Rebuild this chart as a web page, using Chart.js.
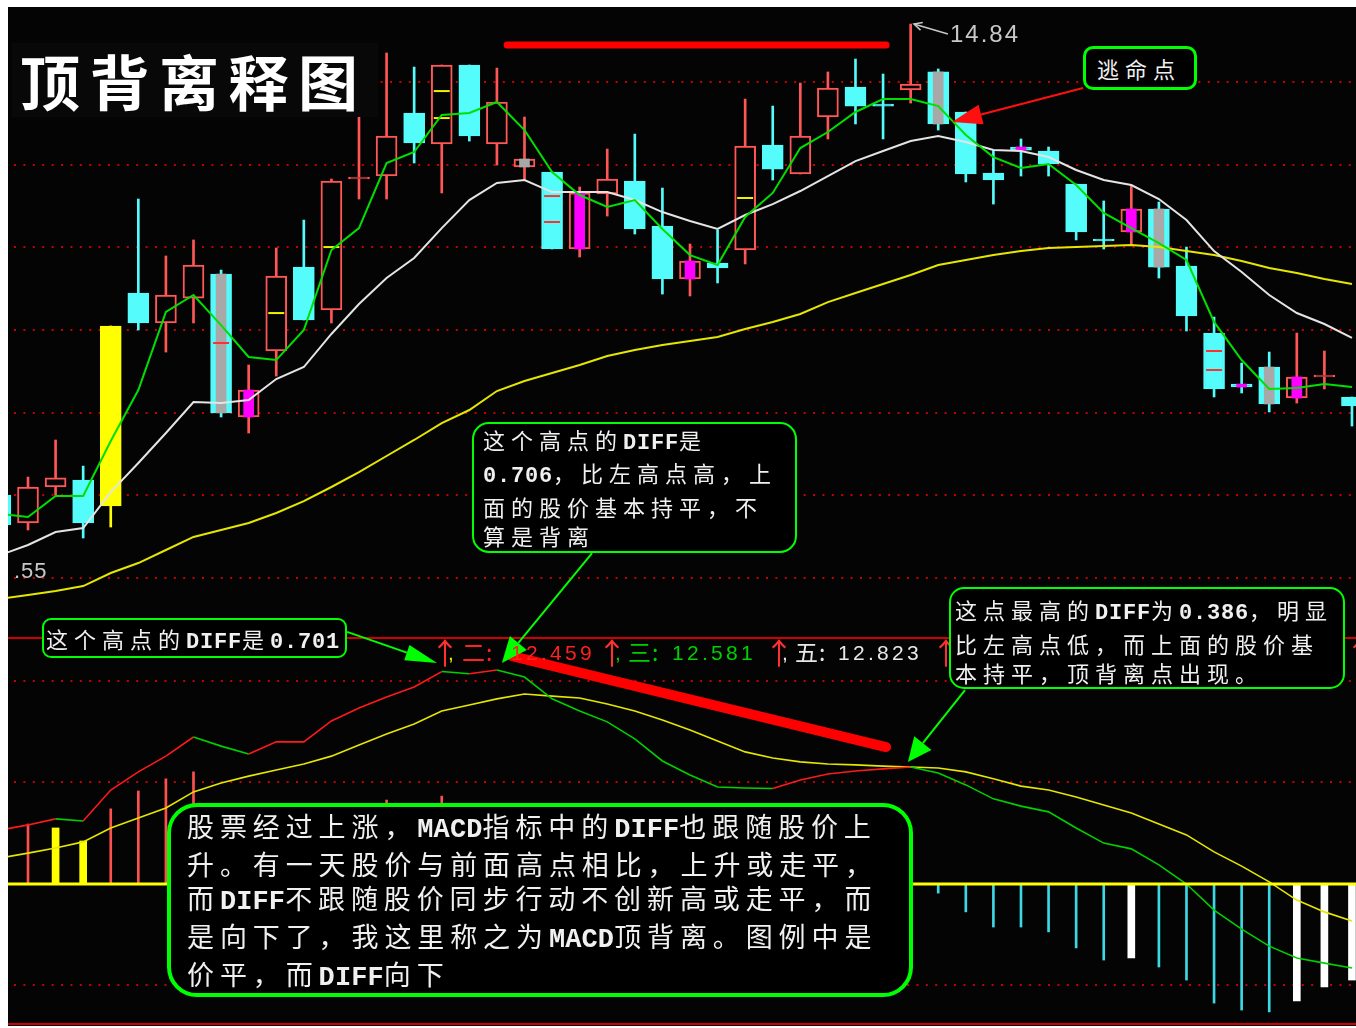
<!DOCTYPE html>
<html>
<head>
<meta charset="utf-8">
<script src="https://cdn.jsdelivr.net/npm/chart.js@4.4.1/dist/chart.umd.min.js"></script>
<style>
html,body{margin:0;padding:0;background:#fff;width:1356px;height:1028px;overflow:hidden;}
#wrap{position:absolute;left:8px;top:7px;width:1348px;height:1019px;background:#040404;}
#c{position:absolute;left:0;top:0;}
.box{position:absolute;box-sizing:border-box;background:#000;border:2px solid #00ff00;color:#f0f0f0;
 font-family:"Noto Sans CJK SC",sans-serif;font-size:22px;letter-spacing:6px;white-space:nowrap;}
.l{font-family:"Liberation Mono",monospace;letter-spacing:0.8px;font-weight:bold;}
.big .l{letter-spacing:0.1px;}
.tbg{position:absolute;left:12px;top:43px;width:366px;height:74px;background:#080808;}
.title{position:absolute;left:20px;top:50px;font-family:"Noto Sans CJK SC";font-weight:700;font-size:60px;line-height:60px;letter-spacing:9.5px;color:#fff;white-space:nowrap;}
.lbl{position:absolute;font-family:"Liberation Sans",sans-serif;color:#c8c8c8;white-space:nowrap;}
.ma span{position:absolute;top:641px;font-family:"Liberation Sans","Noto Sans CJK SC",sans-serif;font-size:21px;line-height:24px;letter-spacing:3.3px;white-space:nowrap;}
.ma span.arr{top:634px;font-family:"Noto Sans CJK SC";font-size:30px;line-height:34px;letter-spacing:0;color:#ff3030;}
.ma span.cj{font-family:"Noto Sans CJK SC";font-size:23px;letter-spacing:1px;top:639px;}
</style>
</head>
<body>
<div id="wrap"><canvas id="c" width="1348" height="1019"></canvas></div>

<div class="tbg"></div>
<div class="title">顶背离释图</div>
<div class="lbl" style="left:950px;top:20px;font-size:24px;line-height:28px;letter-spacing:2px;">14.84</div>
<div class="lbl" style="left:14px;top:558px;font-size:22px;line-height:26px;letter-spacing:1px;">.55</div>

<div class="ma">
 <span class="arr" style="left:430px;">↑</span>
 <span style="left:448px;color:#e6e600;">,</span>
 <span class="cj" style="left:462px;color:#ff2020;">二:</span>
 <span style="left:511px;color:#ff2020;">12.459</span>
 <span class="arr" style="left:597px;">↑</span>
 <span style="left:615px;color:#00d000;">,</span>
 <span class="cj" style="left:628px;color:#00d000;">三:</span>
 <span style="left:672px;color:#00d000;">12.581</span>
 <span class="arr" style="left:764px;">↑</span>
 <span style="left:782px;color:#e8e8e8;">,</span>
 <span class="cj" style="left:795px;color:#e8e8e8;">五:</span>
 <span style="left:838px;color:#e8e8e8;">12.823</span>
 <span class="arr" style="left:931px;">↑</span>
 <span class="arr" style="left:1345px;">↑</span>
</div>

<div class="box" style="left:1083px;top:46px;width:114px;height:44px;border-width:3px;border-radius:10px;padding-left:11px;line-height:38px;">逃命点</div>

<div class="box" style="left:42px;top:618px;width:305px;height:40px;border-radius:9px;padding-left:2px;line-height:36px;">这个高点的<span class="l">DIFF</span>是<span class="l">0.701</span></div>

<div class="box" style="left:472px;top:422px;width:325px;height:131px;border-radius:17px;padding-left:9px;padding-top:1px;line-height:29.4px;">这个高点的<span class="l">DIFF</span>是<br><span class="l">0.706</span>，比左高点高，上<br>面的股价基本持平，不<br>算是背离</div>

<div class="box" style="left:949px;top:587px;width:396px;height:102px;border-radius:15px;padding-left:4px;padding-top:6px;line-height:29.5px;">这点最高的<span class="l">DIFF</span>为<span class="l">0.386</span>，明显<br>比左高点低，而上面的股价基<br>本持平，顶背离点出现。</div>

<div class="box big" style="left:167px;top:803px;width:746px;height:194px;border-width:4px;border-radius:30px;padding-left:16px;padding-top:2px;font-size:27px;letter-spacing:5.9px;line-height:34px;">股票经过上涨，<span class="l">MACD</span>指标中的<span class="l">DIFF</span>也跟随股价上<br>升。有一天股价与前面高点相比，上升或走平，<br>而<span class="l">DIFF</span>不跟随股价同步行动不创新高或走平，而<br>是向下了，我这里称之为<span class="l">MACD</span>顶背离。图例中是<br>价平，而<span class="l">DIFF</span>向下</div>

<script>
// ---------- price panel data (one entry per trading day) ----------
const opens  = [11.193,10.976,11.255,11.309,11.108,12.757,12.525,12.718,12.904,11.797,
                12.308,12.958,12.626,13.640,13.663,14.151,13.911,14.523,13.911,13.733,
                13.694,13.098,13.524,13.624,13.276,12.866,12.989,13.090,13.903,13.679,
                14.120,14.352,14.221,14.329,14.469,14.159,13.686,13.888,13.857,13.601,
                13.175,13.230,13.408,12.966,12.447,12.052,12.184,11.944,12.107,11.952];
const highs  = [11.270,11.332,11.619,11.417,12.502,13.485,13.044,13.168,12.935,12.200,
                13.106,13.322,13.640,14.120,14.616,14.507,14.523,14.523,14.499,14.120,
                13.694,13.578,13.872,13.988,13.570,13.137,13.245,14.259,14.205,14.383,
                14.469,14.569,14.453,14.840,14.492,14.159,13.864,13.950,13.888,13.601,
                13.470,13.586,13.462,13.113,12.571,12.215,12.300,12.447,12.308,11.952];
const lows   = [10.922,10.922,11.193,10.860,10.945,12.471,12.300,12.525,11.797,11.673,
                12.114,12.548,12.525,13.485,13.485,13.764,13.532,13.934,13.748,13.632,
                13.098,13.036,13.353,13.214,12.749,12.734,12.835,12.982,13.632,13.679,
                13.950,14.066,13.950,14.228,14.019,13.617,13.446,13.663,13.663,13.168,
                13.098,13.137,12.873,12.463,11.952,11.983,11.836,11.905,12.014,11.727];
const closes = [10.961,11.255,11.325,10.976,12.502,12.525,12.742,12.974,11.828,12.006,
                12.889,12.548,13.624,13.655,13.973,13.919,14.523,13.973,14.236,13.795,
                13.098,13.532,13.640,13.253,12.866,13.005,12.951,13.895,13.717,13.973,
                14.345,14.205,14.205,14.376,14.066,13.679,13.632,13.864,13.756,13.230,
                13.160,13.408,12.958,12.579,12.014,12.029,11.898,12.107,12.122,11.882];
const ma5    = [11.046,11.023,11.185,11.185,11.611,12.006,12.610,12.742,12.509,12.262,
                12.238,12.471,13.090,13.260,13.764,13.849,14.136,14.151,14.236,14.019,
                13.694,13.516,13.423,13.477,13.253,13.051,12.974,13.346,13.532,13.880,
                14.004,14.159,14.259,14.259,14.205,13.981,13.810,13.725,13.756,13.593,
                13.377,13.260,13.144,13.013,12.533,12.238,12.014,12.021,12.052,12.029];
const ma10   = [10.728,10.806,10.906,10.937,11.216,11.441,11.673,11.913,11.905,11.929,
                12.091,12.184,12.440,12.672,12.873,13.028,13.260,13.477,13.609,13.632,
                13.539,13.539,13.539,13.477,13.384,13.315,13.253,13.361,13.446,13.547,
                13.663,13.779,13.857,13.934,13.973,13.926,13.864,13.857,13.810,13.710,
                13.632,13.593,13.485,13.322,13.082,12.920,12.742,12.602,12.517,12.409];
const ma60   = [10.388,10.419,10.450,10.488,10.589,10.666,10.767,10.868,10.922,10.976,
                11.054,11.146,11.255,11.371,11.495,11.619,11.750,11.851,11.998,12.076,
                12.138,12.200,12.269,12.316,12.354,12.385,12.416,12.478,12.533,12.595,
                12.687,12.757,12.827,12.897,12.974,13.013,13.051,13.082,13.106,13.113,
                13.121,13.129,13.113,13.082,13.051,13.005,12.951,12.912,12.866,12.827];
const limitUpDays = [4];
const grayDays    = [8,19,34,42,46];
const magentaDays = [9,21,25,37,41,45,47];
const dashDays    = [8,10,12,16,16,20,20,27,44,44];
const dashPrices  = [12.370,12.602,13.113,14.321,14.112,13.508,13.307,13.493,12.308,12.161];
const priceGrid   = [14.391,13.751,13.111,12.471,11.830,11.190,10.550];

// ---------- MACD panel data ----------
const diff = [0.178,0.195,0.215,0.208,0.310,0.370,0.422,0.485,0.455,0.429,
              0.469,0.469,0.538,0.581,0.617,0.650,0.701,0.694,0.706,0.683,
              0.611,0.571,0.535,0.479,0.406,0.360,0.320,0.317,0.315,0.343,
              0.363,0.373,0.380,0.386,0.366,0.327,0.281,0.257,0.238,0.185,
              0.135,0.116,0.063,0.000,-0.086,-0.149,-0.205,-0.244,-0.261,-0.277];
const dea  = [0.086,0.102,0.119,0.139,0.185,0.218,0.251,0.304,0.333,0.356,
              0.376,0.396,0.422,0.459,0.495,0.528,0.571,0.591,0.611,0.627,
              0.620,0.614,0.594,0.571,0.541,0.508,0.472,0.436,0.416,0.403,
              0.396,0.393,0.389,0.386,0.383,0.370,0.347,0.323,0.310,0.287,
              0.261,0.234,0.198,0.162,0.106,0.059,0.007,-0.053,-0.092,-0.122];
const macdBar = [0.178,0.198,0.185,0.142,0.248,0.307,0.347,0.370,0.244,0.145,
                 0.185,0.145,0.231,0.244,0.277,0.257,0.290,0.218,0.191,0.112,
                 -0.020,-0.086,-0.119,-0.185,-0.271,-0.297,-0.317,-0.224,-0.185,-0.119,
                 -0.066,-0.040,-0.020,0.000,-0.030,-0.092,-0.142,-0.142,-0.158,-0.211,
                 -0.251,-0.244,-0.274,-0.317,-0.393,-0.416,-0.422,-0.386,-0.340,-0.317];
const thickBarDays = [2,3,15,41,47,48,49];
const macdGrid = [0.670,0.337,-0.333];
const panelEdges = [0.812,-0.462];

// ---------- annotations (day index, value) ----------
const thickNotes = [
  {axis:'y',  from:[18.37,14.678], to:[32.11,14.678], color:'#ff0000', width:7},
  {axis:'y2', from:[18.55,0.752],  to:[32.11,0.452],  color:'#ff0000', width:10}
];
const arrowNotes = [
  {axis:'y',  from:[39.25,14.345], to:[34.50,14.081], color:'#ff1010', width:2,   headLen:30, headW:20, filled:true},
  {axis:'y',  from:[34.35,14.763], to:[33.12,14.840], color:'#c8c8c8', width:1.5, headLen:8,  headW:8,  filled:false},
  {axis:'y2', from:[12.57,0.832],  to:[15.83,0.729],  color:'#00ff00', width:2,   headLen:32, headW:16, filled:true},
  {axis:'y2', from:[21.45,1.092],  to:[18.18,0.729],  color:'#00ff00', width:2,   headLen:26, headW:22, filled:true},
  {axis:'y2', from:[34.97,0.640],  to:[32.90,0.403],  color:'#00ff00', width:2,   headLen:24, headW:22, filled:true}
];

// ---------- build datasets ----------
const RED='#ff5656', CYAN='#54fcfc', YEL='#ffff00', BG='#040404';
const days = opens.map((_,i)=>i);
const isUp = i => closes[i] >= opens[i];
const edge = i => limitUpDays.includes(i) ? YEL : (isUp(i) ? RED : CYAN);
const fill = i => limitUpDays.includes(i) ? YEL : (isUp(i) ? BG : CYAN);
const xy = arr => arr.map((v,i)=>({x:i,y:v}));

const markDays = grayDays.concat(magentaDays);
const datasets = [
  {type:'bar', label:'wick', yAxisID:'y', order:15, grouped:false, barThickness:2,
   data: days.map(i=>({x:i,y:[lows[i],highs[i]]})), backgroundColor: days.map(edge)},
  {type:'bar', label:'body', yAxisID:'y', order:14, grouped:false, barThickness:21, minBarLength:2,
   borderSkipped:false, borderWidth:2,
   data: days.map(i=>({x:i,y:[opens[i],closes[i]]})), backgroundColor: days.map(fill), borderColor: days.map(edge)},
  {type:'bar', label:'mark', yAxisID:'y', order:13, grouped:false, barThickness:10, minBarLength:2,
   data: markDays.map(i=>({x:i,y:[opens[i],closes[i]]})),
   backgroundColor: markDays.map(i=>grayDays.includes(i)?'#a8a8a8':'#ff00ff')},
  {type:'line', label:'dash', yAxisID:'y', order:12, showLine:false,
   data: dashDays.map((d,k)=>({x:d,y:dashPrices[k]})),
   pointStyle:'line', pointRadius:8, pointBorderWidth:2,
   pointBorderColor: dashDays.map(d=>isUp(d)?'#f0f000':'#ff3030')},
  {type:'line', label:'MA60', yAxisID:'y', order:5, data: xy(ma60), borderColor:'#e6e600', borderWidth:2, pointRadius:0},
  {type:'line', label:'MA10', yAxisID:'y', order:4, data: xy(ma10), borderColor:'#e4e4e4', borderWidth:2, pointRadius:0},
  {type:'line', label:'MA5',  yAxisID:'y', order:3, data: xy(ma5),  borderColor:'#00e000', borderWidth:2, pointRadius:0},
  {type:'bar', label:'MACD', yAxisID:'y2', order:20, grouped:false, barThickness:2,
   data: days.map(i=>({x:i,y: thickBarDays.includes(i)?null:macdBar[i]})),
   backgroundColor: days.map(i=>macdBar[i]>=0?'#ff5050':'#3cd8e4')},
  {type:'bar', label:'MACD2', yAxisID:'y2', order:19, grouped:false, barThickness:7,
   data: thickBarDays.map(i=>({x:i,y:macdBar[i]})),
   backgroundColor: thickBarDays.map(i=>macdBar[i]>=0?YEL:'#ffffff')},
  {type:'line', label:'DEA', yAxisID:'y2', order:2, data: xy(dea), borderColor:'#e6e600', borderWidth:1.6, pointRadius:0},
  {type:'line', label:'DIFF', yAxisID:'y2', order:1, data: xy(diff), borderWidth:1.6, pointRadius:0,
   borderColor:'#00d000',
   segment:{borderColor: c => c.p1.parsed.y >= c.p0.parsed.y ? '#ff1a1a' : '#00d000'}}
];

function drawArrow(ctx,x1,y1,x2,y2,o){
  const a=Math.atan2(y2-y1,x2-x1), hl=o.headLen, hw=o.headW/2;
  const bx=x2-Math.cos(a)*hl, by=y2-Math.sin(a)*hl;
  const px=-Math.sin(a)*hw, py=Math.cos(a)*hw;
  ctx.strokeStyle=o.color; ctx.fillStyle=o.color; ctx.lineWidth=o.width;
  ctx.beginPath(); ctx.moveTo(x1,y1); ctx.lineTo(o.filled?bx:x2,o.filled?by:y2); ctx.stroke();
  ctx.beginPath();
  if(o.filled){ ctx.moveTo(x2,y2); ctx.lineTo(bx+px,by+py); ctx.lineTo(bx-px,by-py); ctx.closePath(); ctx.fill(); }
  else { ctx.moveTo(bx+px,by+py); ctx.lineTo(x2,y2); ctx.lineTo(bx-px,by-py); ctx.stroke(); }
}

const overlay = {
  id:'overlay',
  beforeDatasetsDraw(chart){
    const {ctx, chartArea:a, scales:{y,y2}} = chart;
    ctx.save();
    ctx.strokeStyle='#c40000'; ctx.lineWidth=2; ctx.setLineDash([2,7.4]);
    priceGrid.forEach(v=>{const p=Math.round(y.getPixelForValue(v)); ctx.beginPath(); ctx.moveTo(a.left+6,p); ctx.lineTo(a.right,p); ctx.stroke();});
    macdGrid.forEach(v=>{const p=Math.round(y2.getPixelForValue(v)); ctx.beginPath(); ctx.moveTo(a.left+6,p); ctx.lineTo(a.right,p); ctx.stroke();});
    ctx.setLineDash([]);
    ctx.strokeStyle='#d00000'; ctx.lineWidth=2;
    panelEdges.forEach(v=>{const p=Math.round(y2.getPixelForValue(v)); ctx.beginPath(); ctx.moveTo(a.left,p); ctx.lineTo(a.right,p); ctx.stroke();});
    ctx.restore();
  },
  afterDatasetsDraw(chart){
    const {ctx, chartArea:a, scales} = chart;
    const x = scales.x;
    ctx.save();
    const z = scales.y2.getPixelForValue(0);
    ctx.strokeStyle='#ffff00'; ctx.lineWidth=3;
    ctx.beginPath(); ctx.moveTo(a.left,z); ctx.lineTo(a.right,z); ctx.stroke();
    thickNotes.forEach(n=>{
      const ys=scales[n.axis];
      ctx.strokeStyle=n.color; ctx.lineWidth=n.width; ctx.lineCap='round';
      ctx.beginPath();
      ctx.moveTo(x.getPixelForValue(n.from[0]), ys.getPixelForValue(n.from[1]));
      ctx.lineTo(x.getPixelForValue(n.to[0]), ys.getPixelForValue(n.to[1]));
      ctx.stroke();
    });
    ctx.lineCap='butt';
    arrowNotes.forEach(n=>{
      const ys=scales[n.axis];
      drawArrow(ctx, x.getPixelForValue(n.from[0]), ys.getPixelForValue(n.from[1]),
                     x.getPixelForValue(n.to[0]), ys.getPixelForValue(n.to[1]), n);
    });
    ctx.restore();
  }
};

new Chart(document.getElementById('c'), {
  type:'bar',
  data:{datasets},
  options:{
    responsive:false, animation:false, devicePixelRatio:1, events:[],
    layout:{padding:0, autoPadding:false},
    plugins:{legend:{display:false}, tooltip:{enabled:false}},
    scales:{
      x:{type:'linear', min:0.2749, max:49.146, offset:false, display:false},
      y:{type:'linear', min:7.081, max:14.972, display:false},
      y2:{type:'linear', min:-0.4686, max:2.8941, display:false}
    }
  },
  plugins:[overlay]
});
</script>
</body>
</html>
